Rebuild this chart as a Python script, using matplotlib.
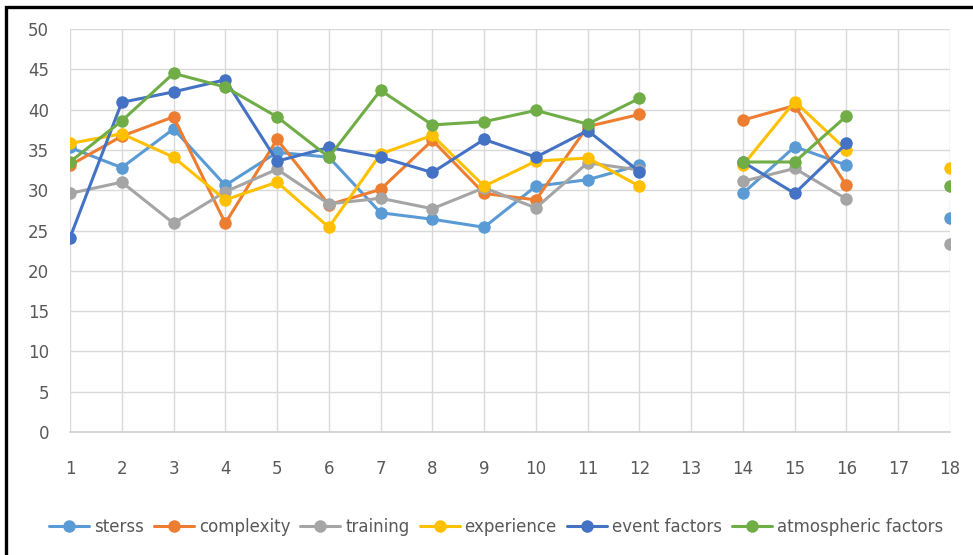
import numpy as np
import matplotlib
matplotlib.use("Agg")
import matplotlib.pyplot as plt
from matplotlib.patches import Rectangle

nan = np.nan

categories = list(range(1, 19))
tick_labels = [str(c) for c in categories]

sterss = [35.3, 32.8, 37.6, 30.6, 34.7, 34.1, 27.2, 26.4, 25.4, 30.5, 31.3, 33.1,
          nan, 29.6, 35.4, 33.1, nan, 26.6]
complexity = [33.1, 36.7, 39.1, 25.9, 36.3, 28.2, 30.1, 36.2, 29.6, 28.8, 37.9, 39.4,
              nan, 38.7, 40.5, 30.6, nan, nan]
training = [29.6, 31.0, 25.9, 29.8, 32.6, 28.3, 29.0, 27.7, 30.3, 27.8, 33.4, 32.5,
            nan, 31.1, 32.7, 28.9, nan, 23.3]
experience = [35.8, 37.0, 34.1, 28.8, 31.0, 25.4, 34.5, 36.8, 30.5, 33.6, 34.0, 30.5,
              nan, 33.1, 41.0, 35.0, nan, 32.8]
event_factors = [24.1, 40.9, 42.2, 43.7, 33.6, 35.3, 34.1, 32.2, 36.3, 34.1, 37.4, 32.3,
                 nan, 33.5, 29.6, 35.8, nan, nan]
atmospheric_factors = [33.5, 38.6, 44.5, 42.8, 39.1, 34.1, 42.4, 38.1, 38.5, 39.9, 38.2, 41.4,
                       nan, 33.5, 33.5, 39.2, nan, 30.5]

series_names = ["sterss", "complexity", "training", "experience",
                "event factors", "atmospheric factors"]
series_values = [sterss, complexity, training, experience,
                 event_factors, atmospheric_factors]
colors = ["#5B9BD5", "#ED7D31", "#A5A5A5", "#FFC000", "#4472C4", "#70AD47"]

plt.rcParams["font.family"] = ["Liberation Sans Narrow", "DejaVu Sans"]
text_color = "#595959"

fig = plt.figure(figsize=(9.73, 5.55), dpi=100)
ax = fig.add_axes([70 / 973, 1 - 432 / 555, 880 / 973, 403 / 555])

for name, vals, col in zip(series_names, series_values, colors):
    ax.plot(categories, vals, color=col, lw=2.2, marker="o", ms=9,
            markeredgewidth=0, label=name, solid_capstyle="round")

ax.set_xlim(1, 18)
ax.set_ylim(0, 50)
ax.set_xticks(categories)
ax.set_xticklabels(tick_labels)
ax.set_yticks(np.arange(0, 51, 5))
ax.grid(True, color="#D9D9D9", lw=1)
ax.set_axisbelow(True)
for side in ["top", "right", "left"]:
    ax.spines[side].set_visible(False)
ax.spines["bottom"].set_color("#D0D0D0")
ax.spines["bottom"].set_linewidth(1.2)
ax.tick_params(axis="both", length=0, labelsize=12, colors=text_color)
ax.tick_params(axis="y", pad=15)
ax.tick_params(axis="x", pad=20)

leg = fig.legend(loc="center", bbox_to_anchor=(496 / 973, 1 - 527 / 555), ncol=6,
                 frameon=False, fontsize=12, handlelength=2.4, handletextpad=0.3,
                 columnspacing=0.6)
for t in leg.get_texts():
    t.set_color(text_color)

# chart frame
fig.patches.append(Rectangle((6 / 973, -0.1), 1.2, 1.1 - 7 / 555 + 0.0,
                             transform=fig.transFigure, fill=False,
                             edgecolor="black", lw=2.4, zorder=10))

fig.savefig("out.png", dpi=100)
